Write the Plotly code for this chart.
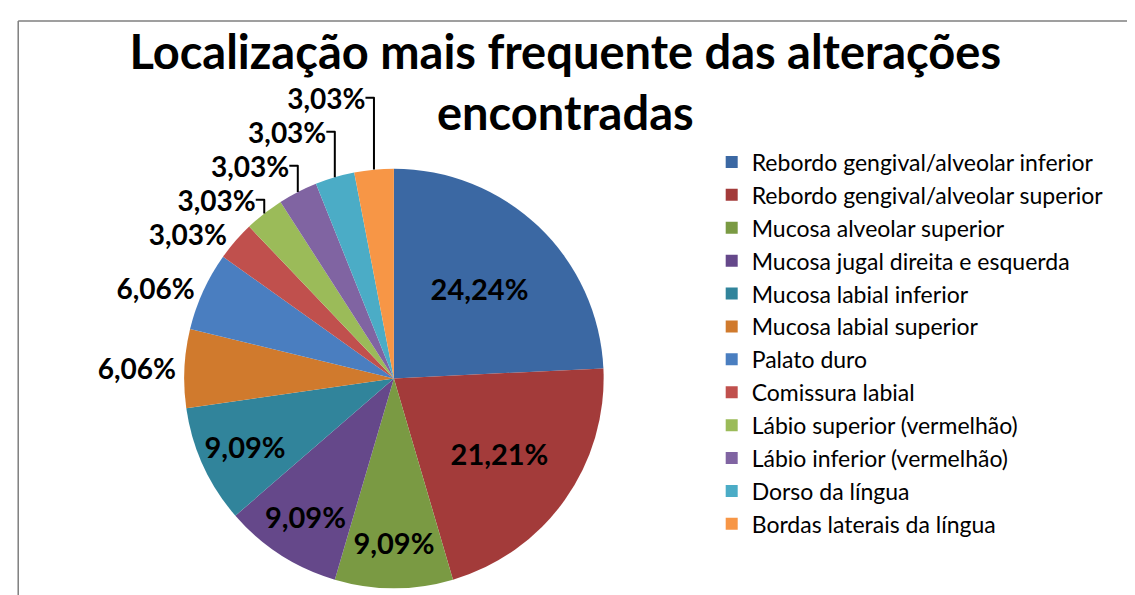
import plotly.graph_objects as go

categories = [
    "Rebordo gengival/alveolar inferior",
    "Rebordo gengival/alveolar superior",
    "Mucosa alveolar superior",
    "Mucosa jugal direita e esquerda",
    "Mucosa labial inferior",
    "Mucosa labial superior",
    "Palato duro",
    "Comissura labial",
    "Lábio superior (vermelhão)",
    "Lábio inferior (vermelhão)",
    "Dorso da língua",
    "Bordas laterais da língua",
]
percentages = [24.24, 21.21, 9.09, 9.09, 9.09, 6.06, 6.06, 3.03, 3.03, 3.03, 3.03, 3.03]
colors = ["#3B68A3", "#A33B3A", "#7A9A43", "#65488A", "#31849B", "#D07A2D",
          "#4A7EC0", "#C0504D", "#9BBB59", "#8064A2", "#4BACC6", "#F79646"]
label_text = [f"{v:.2f}".replace(".", ",") + "%" for v in percentages]
positions = ["inside" if v > 7 else "outside" for v in percentages]

in_font = dict(family="Lato", size=29, color="black", weight="bold")
out_font = dict(family="Lato", size=28, color="black", weight="bold")

fig = go.Figure(go.Pie(
    labels=categories,
    values=percentages,
    text=label_text,
    textinfo="text",
    textposition=positions,
    sort=False,
    direction="clockwise",
    rotation=0,
    automargin=False,
    marker=dict(colors=colors, line=dict(color="white", width=0)),
    textfont=in_font,
    insidetextfont=in_font,
    outsidetextfont=out_font,
    domain=dict(x=[0.015, 0.665], y=[0.025, 0.73]),
    insidetextorientation="horizontal",
))

fig.update_layout(
    width=1135, height=595,
    margin=dict(l=0, r=0, t=0, b=0, autoexpand=False),
    paper_bgcolor="white",
    title=dict(
        text="Localização mais frequente das alterações<br>encontradas",
        x=0.491, xanchor="center", y=0.898, yanchor="top",
        yref="container", xref="container",
        font=dict(family="Lato", size=47, color="black", weight="bold"),
    ),
    legend=dict(
        x=0.62, xanchor="left", y=0.437, yanchor="middle",
        font=dict(family="Lato", size=23, color="black"),
        itemwidth=30,
    ),
    shapes=[
        dict(type="line", xref="paper", yref="paper",
             x0=0.009, x1=0.009, y0=0.0, y1=0.978,
             line=dict(color="#7f7f7f", width=1.5)),
        dict(type="line", xref="paper", yref="paper",
             x0=0.009, x1=1.0, y0=0.978, y1=0.978,
             line=dict(color="#7f7f7f", width=1.5)),
    ],
)

fig.write_html("out.html")
